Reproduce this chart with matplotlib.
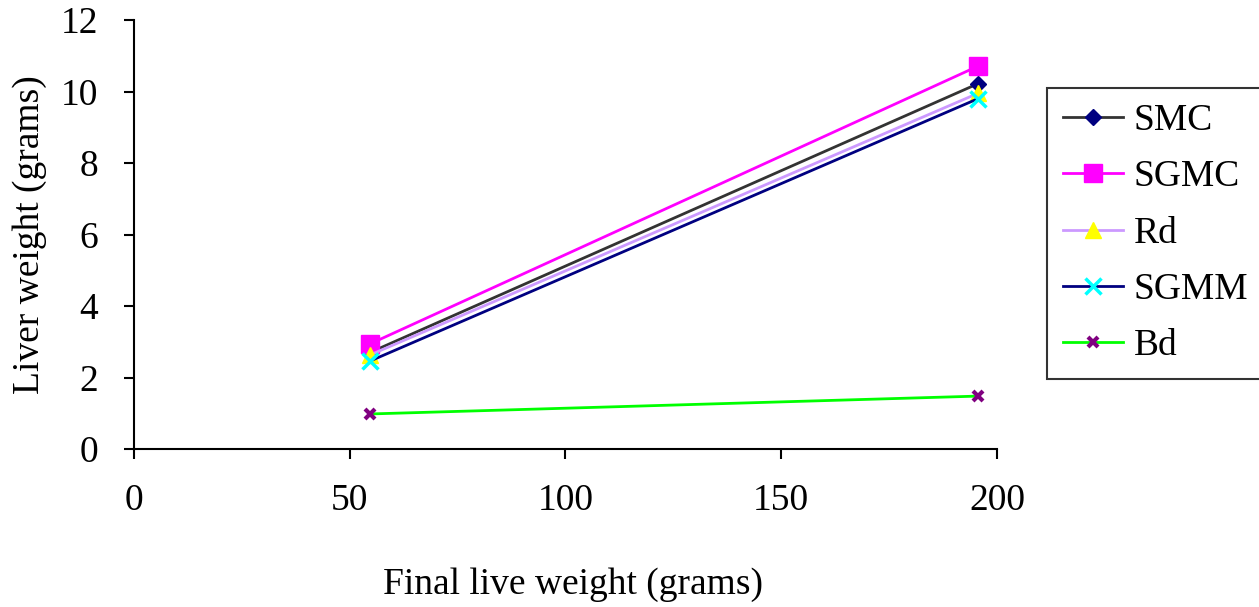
import matplotlib
matplotlib.use("Agg")
import matplotlib.pyplot as plt

x_vals = [54.7, 195.6]
series_names = ["SMC", "SGMC", "Rd", "SGMM", "Bd"]
smc = [2.7, 10.22]
sgmc = [2.94, 10.71]
rd = [2.63, 9.95]
sgmm = [2.46, 9.8]
bd = [0.98, 1.48]

plt.rcParams['font.family'] = ['Liberation Serif', 'DejaVu Serif']

fig = plt.figure(figsize=(12.59, 6.07), dpi=100)
ax = fig.add_axes([0.1064, 0.2603, 0.6855, 0.7067])

styles = [
    dict(color="#333333", marker="D", mfc="#000080", mec="#000080", ms=8),
    dict(color="#FF00FF", marker="s", mfc="#FF00FF", mec="#FF00FF", ms=13),
    dict(color="#CC99FF", marker="^", mfc="#FFFF00", mec="#FFFF00", ms=12),
    dict(color="#000080", marker="x", mfc="#00FFFF", mec="#00FFFF", ms=12, mew=2.5),
    dict(color="#00FF00", marker="x", mfc="#800080", mec="#800080", ms=7, mew=3),
]
data = [smc, sgmc, rd, sgmm, bd]
for name, ys, st in zip(series_names, data, styles):
    ax.plot(x_vals, ys, lw=2, label=name, **st)

ax.set_xlim(0, 200)
ax.set_ylim(0, 12)
ax.set_xticks([0, 50, 100, 150, 200])
ax.set_yticks([0, 2, 4, 6, 8, 10, 12])
ax.spines['top'].set_visible(False)
ax.spines['right'].set_visible(False)
for s in ['left', 'bottom']:
    ax.spines[s].set_linewidth(1.5)
ax.tick_params(axis='both', labelsize=27, width=1.5, length=7, direction='out')
ax.tick_params(axis='x', pad=18)
ax.tick_params(axis='y', pad=19)

ax.set_xlabel("Final live weight (grams)", fontsize=27)
ax.xaxis.set_label_coords((573 - 134) / 863, -(585 - 449) / 429)
ax.xaxis.label.set_va('center')
ax.set_ylabel("Liver weight (grams)", fontsize=27)
ax.yaxis.set_label_coords(-(134 - 30) / 863, 0.5)
ax.yaxis.label.set_va('center')

leg = fig.legend(loc='upper left', bbox_to_anchor=(1047/1259, 1 - 88/607),
                 borderaxespad=0, fontsize=27, frameon=True, fancybox=False,
                 edgecolor='black', handlelength=1.6, handletextpad=0.3,
                 labelspacing=0.58, borderpad=0.42)
leg.get_frame().set_linewidth(1.5)

fig.savefig("out.png", dpi=100)
